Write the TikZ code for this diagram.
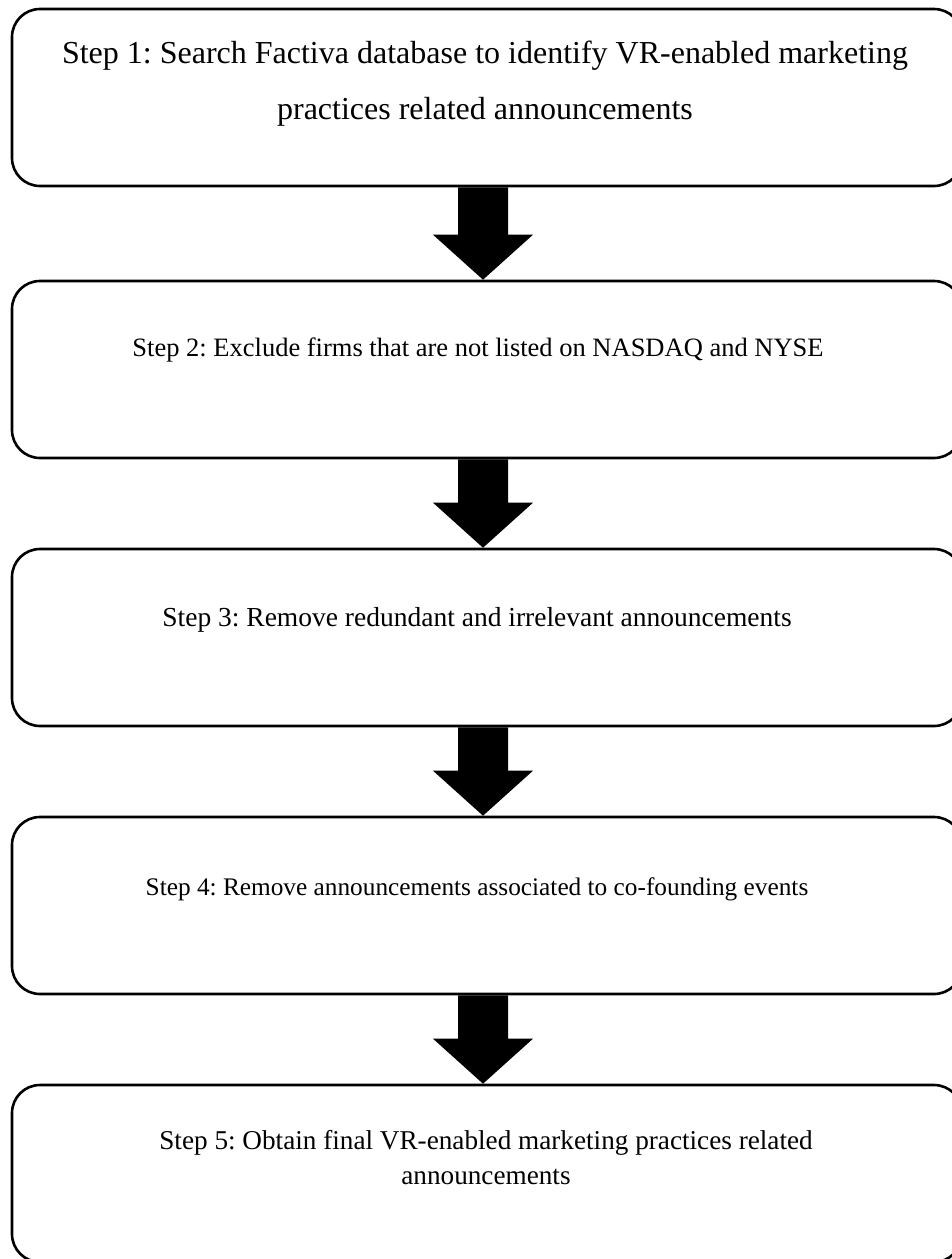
\documentclass[tikz,border=0pt]{standalone}
\usepackage{fontspec}
\setmainfont{Liberation Serif}
\usetikzlibrary{calc}
\tikzset{
  stepbox/.style={draw=black, line width=2.6pt, rounded corners=28pt, inner sep=0pt,
    minimum width=950pt, minimum height=177pt},
  steptext/.style={font=\fontsize{26.5}{50}\selectfont, align=center, inner sep=0pt},
  blockarrow/.style={fill=black, draw=none}
}
\newcommand{\downblock}[2]{%
  \fill[blockarrow] (458,0 |- #1.south) -- (508,0 |- #1.south)
    -- ($(508,0 |- #2.north)+(0,-45)$) -- ($(533,0 |- #2.north)+(0,-45)$)
    -- (483,0 |- #2.north) -- ($(433,0 |- #2.north)+(0,-45)$)
    -- ($(458,0 |- #2.north)+(0,-45)$) -- cycle;}
\begin{document}
\frenchspacing
\begin{tikzpicture}[x=1pt,y=-1pt]
\useasboundingbox (0,0) rectangle (952,1259);
\node[stepbox] (b1) at (487,97.5) {};
\node[stepbox] (b2) at (487,369.5) {};
\node[stepbox] (b3) at (487,637.5) {};
\node[stepbox] (b4) at (487,905.5) {};
\node[stepbox] (b5) at (487,1173.5) {};

\node[steptext, font=\fontsize{32}{56}\selectfont] (t1) at (485,84) {Step 1: Search Factiva database to identify VR-enabled marketing\\practices related announcements};
\node[steptext] (t2) at (478,350) {Step 2: Exclude firms that are not listed on NASDAQ and NYSE};
\node[steptext, font=\fontsize{27.5}{50}\selectfont] (t3) at (477,620) {Step 3: Remove redundant and irrelevant announcements};
\node[steptext, font=\fontsize{25.3}{50}\selectfont] (t4) at (477,889) {Step 4: Remove announcements associated to co-founding events};
\node[steptext, font=\fontsize{27.2}{35}\selectfont] (t5) at (486,1158) {Step 5: Obtain final VR-enabled marketing practices related\\announcements};

\downblock{b1}{b2}
\downblock{b2}{b3}
\downblock{b3}{b4}
\downblock{b4}{b5}
\end{tikzpicture}
\end{document}
